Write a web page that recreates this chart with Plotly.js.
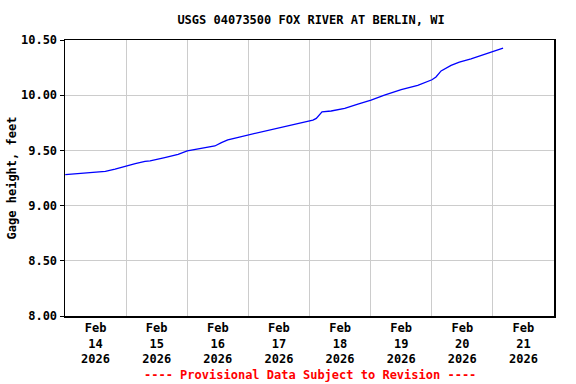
<!DOCTYPE html>
<html>
<head>
<meta charset="utf-8">
<script src="https://cdn.plot.ly/plotly-3.0.1.min.js"></script>
<style>html,body{margin:0;padding:0;background:#fff;}#chart{width:576px;height:384px;}</style>
</head>
<body>
<div id="chart"></div>
<script>
const times = [
  "2026-02-14 00:06","2026-02-14 06:40","2026-02-14 11:55","2026-02-14 15:50","2026-02-14 19:40",
  "2026-02-15 00:00","2026-02-15 03:35","2026-02-15 07:25","2026-02-15 09:25","2026-02-15 15:10","2026-02-15 20:25",
  "2026-02-16 00:00","2026-02-16 06:55","2026-02-16 10:50","2026-02-16 13:25","2026-02-16 15:55","2026-02-16 18:25",
  "2026-02-17 00:00","2026-02-17 07:35","2026-02-17 13:30","2026-02-17 19:20",
  "2026-02-18 00:20","2026-02-18 01:20","2026-02-18 02:40","2026-02-18 04:00","2026-02-18 04:55","2026-02-18 08:30","2026-02-18 13:50","2026-02-18 19:00",
  "2026-02-19 00:10","2026-02-19 05:25","2026-02-19 09:00","2026-02-19 12:00","2026-02-19 18:30",
  "2026-02-20 00:05","2026-02-20 01:40","2026-02-20 03:40","2026-02-20 07:35","2026-02-20 10:50","2026-02-20 15:25","2026-02-20 20:35",
  "2026-02-21 00:00","2026-02-21 02:30","2026-02-21 04:00"
];
const gageHeight = [
  9.28, 9.29, 9.30, 9.31, 9.33,
  9.36, 9.38, 9.40, 9.405, 9.435, 9.465,
  9.495, 9.525, 9.54, 9.57, 9.595, 9.61,
  9.64, 9.685, 9.71, 9.745,
  9.77, 9.775, 9.79, 9.825, 9.85, 9.857, 9.88, 9.92,
  9.955, 10.00, 10.03, 10.05, 10.09,
  10.14, 10.165, 10.22, 10.27, 10.30, 10.33, 10.37,
  10.397, 10.418, 10.427
];
const xRange = ["2026-02-14 00:00", "2026-02-22 00:00"];
const yRange = [8.0, 10.5];
const titleText = "USGS 04073500 FOX RIVER AT BERLIN, WI";
const yTitle = "Gage height, feet";
const footer = "---- Provisional Data Subject to Revision ----";

const font = {family: "DejaVu Sans Mono, monospace", size: 12, color: "#000", weight: "bold"};

Plotly.newPlot("chart", [{
  x: times, y: gageHeight, type: "scatter", mode: "lines",
  line: {color: "#0000ff", width: 1.3}, hoverinfo: "skip"
}], {
  width: 576, height: 384,
  margin: {l: 65, r: 22, t: 40, b: 68},
  paper_bgcolor: "#fff", plot_bgcolor: "#fff",
  showlegend: false,
  font: font,
  title: {text: titleText, font: font, x: 0.54, xanchor: "center", y: 0.948, yanchor: "middle"},
  xaxis: {
    type: "date", range: xRange, tick0: "2026-02-14", dtick: 86400000,
    ticklabelmode: "period", tickformat: "%b<br>%d<br>%Y",
    showgrid: true, gridcolor: "#cccccc", gridwidth: 1,
    showline: true, linecolor: "#000", linewidth: 1.5, mirror: true,
    ticks: "", tickfont: font, zeroline: false, fixedrange: true
  },
  yaxis: {
    range: yRange, dtick: 0.5, tick0: 8, tickformat: ".2f",
    showgrid: true, gridcolor: "#cccccc", gridwidth: 1,
    showline: true, linecolor: "#000", linewidth: 1.5, mirror: true,
    ticks: "outside", ticklen: 4, tickcolor: "#000",
    tickfont: font, zeroline: false,
    title: {text: yTitle, font: font, standoff: 2}
  },
  annotations: [{
    text: footer, xref: "paper", yref: "paper", x: 0.5, y: -0.215,
    xanchor: "center", yanchor: "middle", showarrow: false,
    font: {family: font.family, size: 12, color: "#ff0000", weight: "bold"}
  }]
}, {staticPlot: true});
</script>
</body>
</html>
